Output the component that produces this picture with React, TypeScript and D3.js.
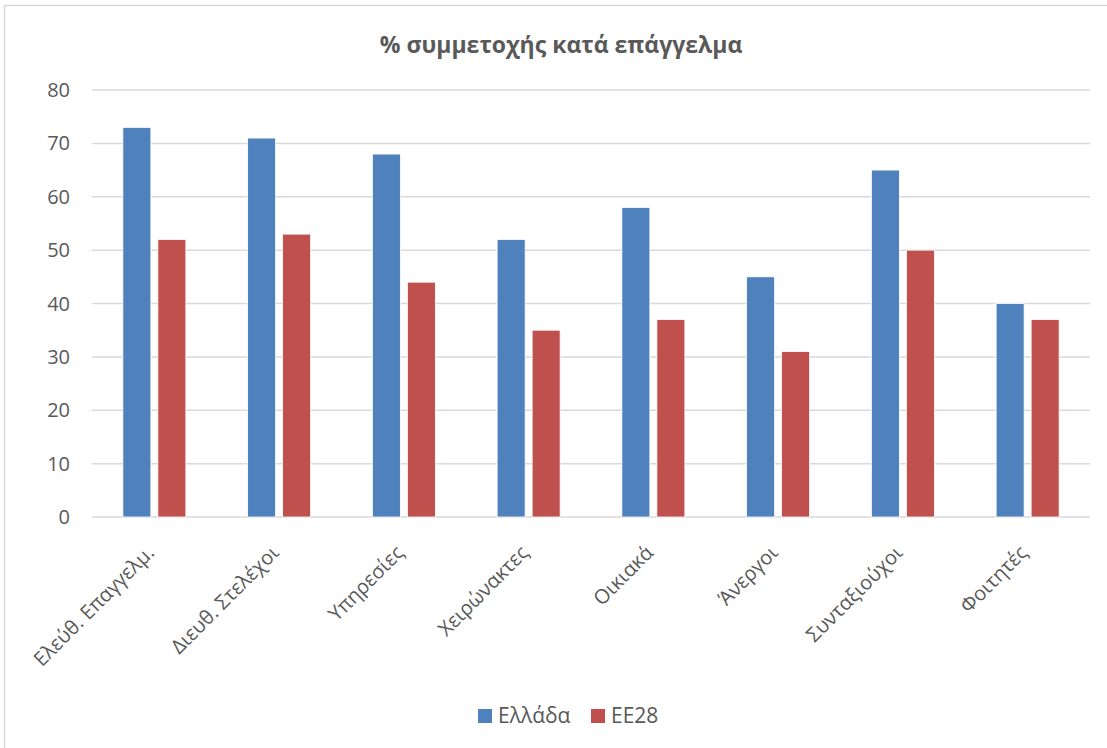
import React, { useEffect, useRef } from "react";
import * as d3 from "d3";

const categories = [
  "Ελεύθ. Επαγγελμ.",
  "Διευθ. Στελέχοι",
  "Υπηρεσίες",
  "Χειρώνακτες",
  "Οικιακά",
  "Άνεργοι",
  "Συνταξιούχοι",
  "Φοιτητές",
];
const greece = [73, 71, 68, 52, 58, 45, 65, 40];
const eu28 = [52, 53, 44, 35, 37, 31, 50, 37];
const seriesNames = ["Ελλάδα", "EE28"];
const seriesColors = ["#4F81BD", "#C0504D"];
const yTicks = [0, 10, 20, 30, 40, 50, 60, 70, 80];

const W = 1107;
const H = 748;
const FONT = "'Open Sans', 'Noto Sans', sans-serif";

const App: React.FC = () => {
  const svgRef = useRef<SVGSVGElement | null>(null);

  useEffect(() => {
    if (!svgRef.current) return;
    const svg = d3.select(svgRef.current);
    svg.selectAll("*").remove();

    const margin = { top: 90, right: 17, bottom: 231, left: 92 };
    const innerW = W - margin.left - margin.right;
    const innerH = H - margin.top - margin.bottom;

    // chart frame
    svg
      .append("rect")
      .attr("x", 4.5)
      .attr("y", 5.5)
      .attr("width", W + 10)
      .attr("height", H + 10)
      .attr("fill", "#fff")
      .attr("stroke", "#d9d9d9")
      .attr("stroke-width", 1.5);

    svg
      .append("text")
      .attr("x", 561)
      .attr("y", 53)
      .attr("text-anchor", "middle")
      .attr("font-family", FONT)
      .attr("font-size", 23)
      .attr("font-weight", "bold")
      .attr("fill", "#595959")
      .text("% συμμετοχής κατά επάγγελμα");

    const g = svg.append("g").attr("transform", `translate(${margin.left},${margin.top})`);

    const x = d3.scaleBand<string>().domain(categories).range([0, innerW]).paddingInner(0).paddingOuter(0);
    const x1 = d3.scaleBand<number>().domain([0, 1]).range([0, 63]).paddingInner(0.2);
    const y = d3.scaleLinear().domain([0, 80]).range([innerH, 0]);

    // gridlines
    g.selectAll(".grid")
      .data(yTicks)
      .enter()
      .append("line")
      .attr("x1", 0)
      .attr("x2", innerW)
      .attr("y1", (d) => y(d))
      .attr("y2", (d) => y(d))
      .attr("stroke", "#d9d9d9")
      .attr("stroke-width", 1.5);

    // y labels
    g.selectAll(".ylab")
      .data(yTicks)
      .enter()
      .append("text")
      .attr("x", -22)
      .attr("y", (d) => y(d))
      .attr("dy", "0.35em")
      .attr("text-anchor", "end")
      .attr("font-family", FONT)
      .attr("font-size", 20)
      .attr("fill", "#595959")
      .text((d) => d);

    const series = [greece, eu28];
    series.forEach((vals, si) => {
      g.selectAll(`.bar${si}`)
        .data(vals)
        .enter()
        .append("rect")
        .attr("x", (d, i) => (x(categories[i]) as number) + x.bandwidth() / 2 - 31.5 + (x1(si) as number))
        .attr("y", (d) => y(d))
        .attr("width", x1.bandwidth())
        .attr("height", (d) => innerH - y(d))
        .attr("fill", seriesColors[si])
        .attr("stroke", "#fff")
        .attr("stroke-width", 0.8);
    });

    // x labels
    g.selectAll(".xlab")
      .data(categories)
      .enter()
      .append("text")
      .attr(
        "transform",
        (d) => `translate(${(x(d) as number) + x.bandwidth() / 2 + 1},${innerH + 37}) rotate(-45)`
      )
      .attr("text-anchor", "end")
      .attr("font-family", FONT)
      .attr("font-size", 20)
      .attr("fill", "#595959")
      .text((d) => d);

    // legend
    const legendX = [478, 591];
    seriesNames.forEach((name, i) => {
      svg
        .append("rect")
        .attr("x", legendX[i])
        .attr("y", 709)
        .attr("width", 14)
        .attr("height", 14)
        .attr("fill", seriesColors[i]);
      svg
        .append("text")
        .attr("x", legendX[i] + 20)
        .attr("y", 716)
        .attr("dy", "0.35em")
        .attr("font-family", FONT)
        .attr("font-size", 21)
        .attr("fill", "#595959")
        .text(name);
    });
  }, []);

  return (
    <svg
      ref={svgRef}
      width={W}
      height={H}
      style={{ position: "absolute", left: 0, top: 0, display: "block" }}
    />
  );
};

export default App;
